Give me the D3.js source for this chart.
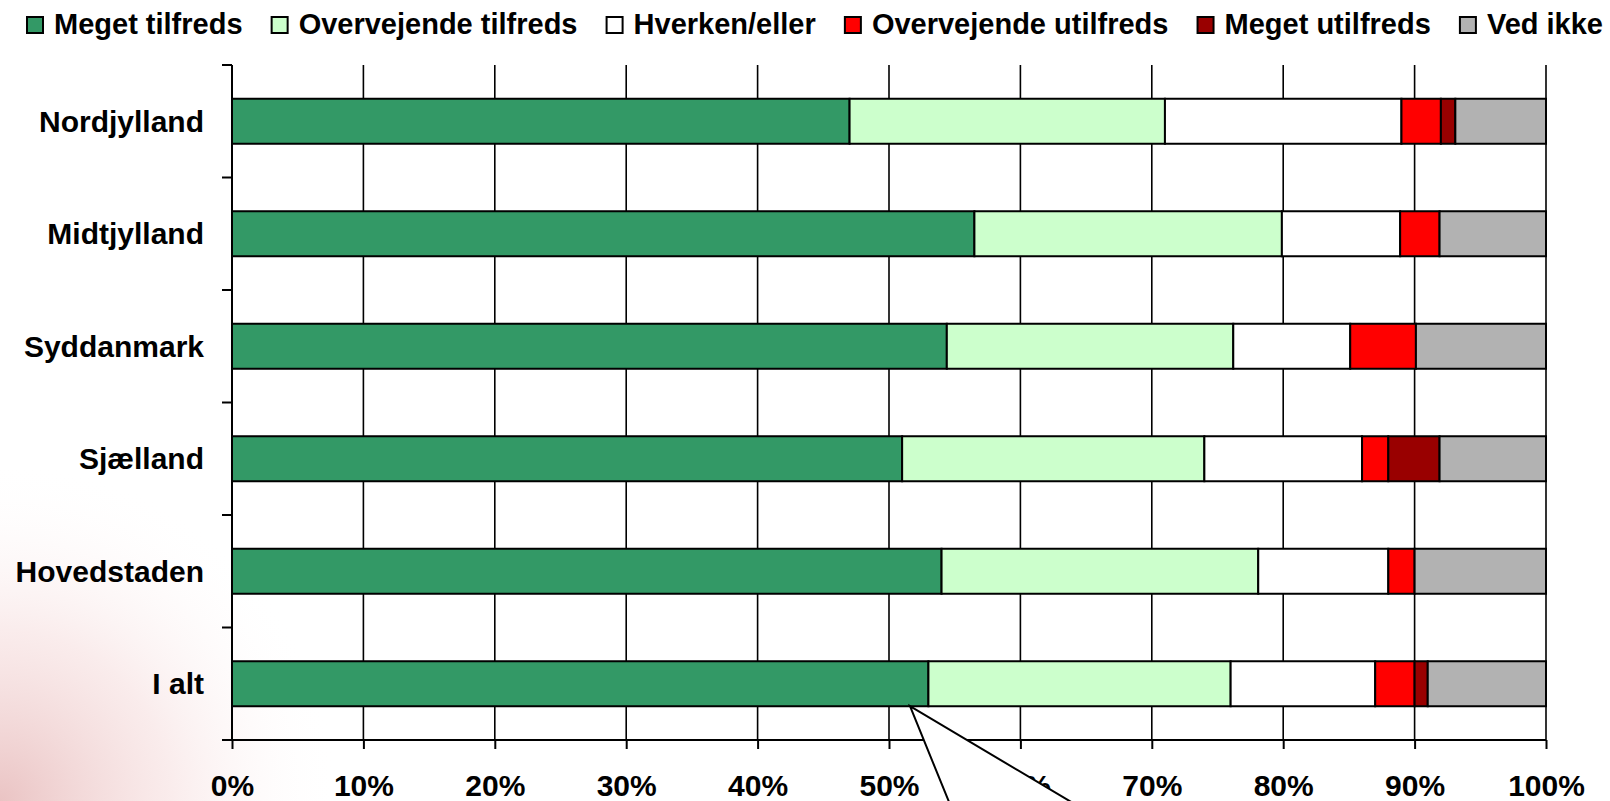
<!DOCTYPE html>
<html>
<head>
<meta charset="utf-8">
<script src="https://cdn.jsdelivr.net/npm/d3@7"></script>
<style>
  body { margin: 0; background: #fff; }
  text { font-family: "Liberation Sans", Arial, sans-serif; font-weight: bold; fill: #000; }
</style>
</head>
<body>
<div id="chart"></div>
<script>
// Regions (top to bottom)
const categories = ['Nordjylland', 'Midtjylland', 'Syddanmark', 'Sjælland', 'Hovedstaden', 'I alt'];

// Share of answers per region, in percent
const megetTilfreds      = [47, 56.5, 54.4, 51, 54, 53];
const overvejTilfreds    = [24, 23.4, 21.8, 23, 24.1, 23];
const hverkenEller       = [18, 9, 8.9, 12, 9.9, 11];
const overvejUtilfreds   = [3, 3, 5, 2, 2, 3];
const megetUtilfreds     = [1.1, 0, 0, 3.9, 0, 1];
const vedIkke            = [6.9, 8.1, 9.9, 8.1, 10, 9];

const seriesNames = ['Meget tilfreds', 'Overvejende tilfreds', 'Hverken/eller',
                     'Overvejende utilfreds', 'Meget utilfreds', 'Ved ikke'];
const seriesValues = [megetTilfreds, overvejTilfreds, hverkenEller,
                      overvejUtilfreds, megetUtilfreds, vedIkke];
const seriesColors = ['#339966', '#ccffcc', '#ffffff', '#ff0000', '#990000', '#b2b2b2'];

const xTicks = [0, 10, 20, 30, 40, 50, 60, 70, 80, 90, 100];

const W = 1610, H = 801;
const margin = { top: 65, right: 64, bottom: 61, left: 232 };

const svg = d3.select('#chart').append('svg')
  .attr('width', W)
  .attr('height', H);

// faint pink glow in the lower left corner
const defs = svg.append('defs');
const glow = defs.append('radialGradient')
  .attr('id', 'glow')
  .attr('gradientUnits', 'userSpaceOnUse')
  .attr('cx', 0).attr('cy', H).attr('r', 340);
glow.append('stop').attr('offset', 0).attr('stop-color', '#dc9c9c').attr('stop-opacity', 0.6);
glow.append('stop').attr('offset', 0.5).attr('stop-color', '#f0c8c8').attr('stop-opacity', 0.35);
glow.append('stop').attr('offset', 1).attr('stop-color', '#ffffff').attr('stop-opacity', 0);
svg.append('rect').attr('width', W).attr('height', H).attr('fill', '#fff');
svg.append('rect').attr('width', W).attr('height', H).attr('fill', 'url(#glow)');

// build rows for the stack
const rows = categories.map((c, i) => {
  const r = { cat: c };
  seriesNames.forEach((s, j) => { r[s] = seriesValues[j][i]; });
  return r;
});
const stacked = d3.stack().keys(seriesNames)(rows);

const x = d3.scaleLinear()
  .domain([0, 100])
  .range([margin.left, W - margin.right]);

const y = d3.scaleBand()
  .domain(categories)
  .range([margin.top, H - margin.bottom])
  .paddingInner(0.6)
  .paddingOuter(0.3);

const yTop = margin.top, yBot = H - margin.bottom;

// vertical gridlines
svg.append('g')
  .selectAll('line')
  .data(xTicks.filter(d => d > 0))
  .join('line')
  .attr('x1', d => x(d)).attr('x2', d => x(d))
  .attr('y1', yTop).attr('y2', yBot)
  .attr('stroke', '#000')
  .attr('stroke-width', 1.6);

// stacked bars
svg.append('g')
  .selectAll('g')
  .data(stacked)
  .join('g')
  .attr('fill', (d, i) => seriesColors[i])
  .selectAll('rect')
  .data(d => d.filter(p => p[1] - p[0] > 0))
  .join('rect')
  .attr('x', d => x(d[0]))
  .attr('width', d => x(d[1]) - x(d[0]))
  .attr('y', d => y(d.data.cat))
  .attr('height', y.bandwidth())
  .attr('stroke', '#000')
  .attr('stroke-width', 2);

// x axis
const xAxis = svg.append('g')
  .attr('transform', `translate(0,${yBot})`)
  .call(d3.axisBottom(x).tickValues(xTicks).tickFormat(d => d + '%').tickSize(9).tickPadding(26));
xAxis.select('.domain').attr('stroke', '#000').attr('stroke-width', 2)
  .attr('d', `M${x(0) - 10},0H${x(100)}`);
xAxis.selectAll('.tick line').attr('stroke', '#000').attr('stroke-width', 2);
xAxis.selectAll('.tick text')
  .style('font-size', '30px')
  .style('font-family', '"Liberation Sans", Arial, sans-serif')
  .style('font-weight', 'bold')
  .attr('fill', '#000');

// y axis line and boundary ticks
svg.append('line')
  .attr('x1', x(0)).attr('x2', x(0))
  .attr('y1', yTop).attr('y2', yBot)
  .attr('stroke', '#000').attr('stroke-width', 2);

const boundaries = d3.range(categories.length + 1).map(i => yTop + i * y.step());
svg.append('g')
  .selectAll('line')
  .data(boundaries)
  .join('line')
  .attr('x1', x(0) - 10).attr('x2', x(0))
  .attr('y1', d => d).attr('y2', d => d)
  .attr('stroke', '#000').attr('stroke-width', 2);

// category labels
svg.append('g')
  .selectAll('text')
  .data(categories)
  .join('text')
  .attr('x', x(0) - 28)
  .attr('y', d => y(d) + y.bandwidth() / 2)
  .attr('dy', '0.35em')
  .attr('text-anchor', 'end')
  .style('font-size', '30px')
  .text(d => d);

// callout wedge left over from the source slide
const apex = [x(51.6), y('I alt') + y.bandwidth()];
svg.append('path')
  .attr('d', `M${apex[0]},${apex[1]}L${x(54.6)},${H + 2}L${x(64)},${H + 2}Z`)
  .attr('fill', '#fff')
  .attr('stroke', 'none');
svg.append('path')
  .attr('d', `M${x(54.6)},${H + 2}L${apex[0]},${apex[1]}L${x(64)},${H + 2}`)
  .attr('fill', 'none')
  .attr('stroke', '#000')
  .attr('stroke-width', 2);

// legend
const legend = svg.append('g');
const items = legend.selectAll('g')
  .data(seriesNames)
  .join('g');
items.append('rect')
  .attr('width', 16).attr('height', 16)
  .attr('y', 17)
  .attr('fill', (d, i) => seriesColors[i])
  .attr('stroke', '#000').attr('stroke-width', 2);
items.append('text')
  .attr('x', 27)
  .attr('y', 34)
  .style('font-size', '29px')
  .text(d => d);

const widths = [];
items.each(function() { widths.push(this.querySelector('text').getComputedTextLength()); });
const legendStart = 27, legendEnd = 1603;
const used = d3.sum(widths) + widths.length * 27;
const gap = (legendEnd - legendStart - used) / (widths.length - 1);
let cx = legendStart;
items.attr('transform', (d, i) => {
  const t = `translate(${cx},0)`;
  cx += 27 + widths[i] + gap;
  return t;
});
</script>
</body>
</html>
